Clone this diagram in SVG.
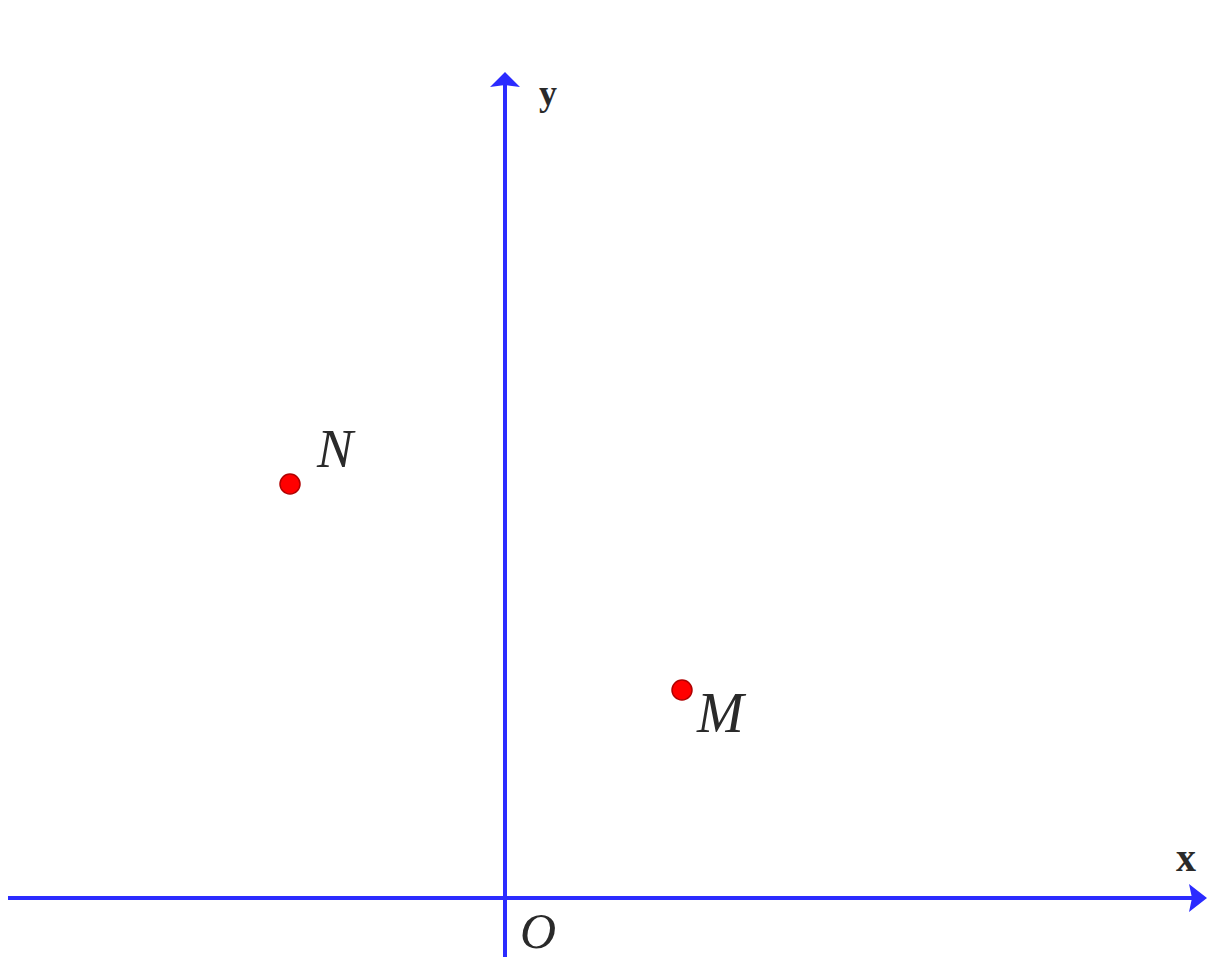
<svg xmlns="http://www.w3.org/2000/svg" width="1230" height="978" viewBox="0 0 1230 978">
<style>
.axis{stroke:#2b2bff;stroke-width:4;fill:none}
.head{fill:#2b2bff}
.pt{fill:#ff0000;stroke:#b00000;stroke-width:1.5}
.lbl{font-family:"Liberation Serif",serif;font-style:italic;fill:#2a2a2a}
.ax{font-family:"Liberation Serif",serif;font-weight:bold;fill:#2a2a2a}
</style>
<rect width="1230" height="978" fill="#ffffff"/>
<g id="connectors">
<line class="axis" x1="8" y1="898" x2="1195" y2="898"/>
<path class="head" d="M1207,898 L1189,884 L1192,898 L1189,912 Z"/>
<line class="axis" x1="505" y1="957" x2="505" y2="84"/>
<path class="head" d="M505,72 L490,87 L505,85 L520,87 Z"/>
</g>
<g id="axis-x"><text class="ax" x="1176" y="871" font-size="40">x</text></g>
<g id="axis-y"><text class="ax" x="539" y="105" font-size="36">y</text></g>
<g id="origin"><text class="lbl" x="520" y="948" font-size="50">O</text></g>
<g id="point-N">
<circle class="pt" cx="290" cy="484" r="10"/>
<text class="lbl" x="317" y="467" font-size="54">N</text>
</g>
<g id="point-M">
<circle class="pt" cx="682" cy="690" r="10"/>
<text class="lbl" x="697" y="732" font-size="56">M</text>
</g>
</svg>
